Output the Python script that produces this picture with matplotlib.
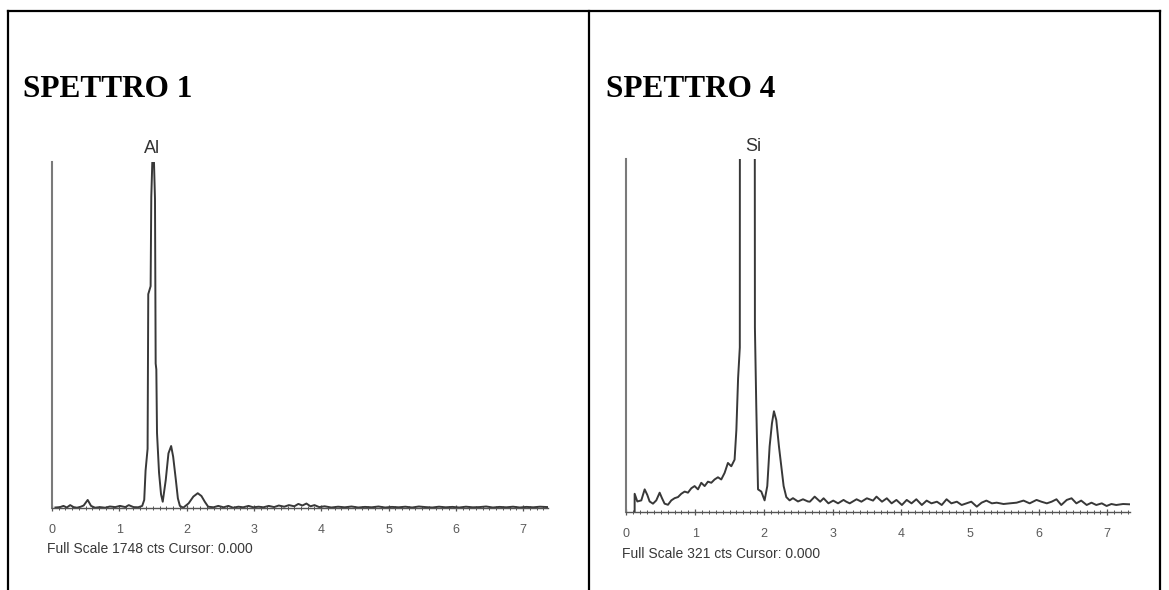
import matplotlib.pyplot as plt
from matplotlib.lines import Line2D
from matplotlib.ticker import MultipleLocator

# spectrum 1 (keV, counts), full scale 1748 cts
kev_1 = [0.05, 0.12, 0.17, 0.22, 0.27, 0.32, 0.37, 0.42, 0.47, 0.53, 0.58, 0.64,
         0.71, 0.79, 0.86, 0.94, 1.01, 1.09, 1.14, 1.21, 1.28, 1.34, 1.37, 1.39,
         1.42, 1.43, 1.465, 1.475, 1.49, 1.515, 1.53, 1.54, 1.55, 1.56, 1.59,
         1.62, 1.645, 1.69, 1.73, 1.77, 1.80, 1.84, 1.87, 1.90, 1.95, 2.03, 2.10,
         2.165, 2.22, 2.27, 2.32, 2.40, 2.47, 2.55, 2.62, 2.69, 2.77, 2.84, 2.92,
         2.99, 3.07, 3.14, 3.22, 3.30, 3.37, 3.45, 3.52, 3.60, 3.66, 3.72, 3.78,
         3.84, 3.90, 3.97, 4.05, 4.15, 4.25, 4.35, 4.45, 4.55, 4.65, 4.75, 4.85,
         4.95, 5.05, 5.15, 5.25, 5.35, 5.45, 5.55, 5.65, 5.75, 5.85, 5.95, 6.05,
         6.15, 6.25, 6.35, 6.45, 6.55, 6.65, 6.75, 6.85, 6.95, 7.05, 7.15, 7.25,
         7.37]
cts_1 = [4, 6, 12, 4, 16, 6, 3, 7, 14, 42, 12, 3,
         6, 3, 9, 6, 12, 6, 16, 6, 5, 12, 42, 190,
         300, 1080, 1120, 1570, 1745, 1745, 1560, 730, 700, 380, 180,
         70, 33, 143, 277, 314, 260, 143, 50, 12, 3, 25, 59,
         76, 62, 33, 8, 5, 12, 5, 12, 3, 8, 5, 12,
         5, 8, 5, 12, 6, 14, 8, 16, 10, 22, 14, 24,
         10, 16, 6, 10, 4, 8, 5, 9, 4, 7, 5, 9,
         4, 7, 5, 8, 4, 9, 6, 4, 8, 5, 7, 4,
         8, 5, 6, 9, 4, 7, 5, 8, 4, 7, 5, 8,
         6]

# spectrum 4 (keV, counts), full scale 321 cts; Si peak runs off scale
kev_4 = [0.119, 0.119, 0.158, 0.216, 0.265, 0.303, 0.337, 0.386, 0.434, 0.483,
         0.517, 0.555, 0.604, 0.653, 0.701, 0.750, 0.798, 0.847, 0.895, 0.944,
         0.992, 1.041, 1.089, 1.138, 1.186, 1.235, 1.283, 1.332, 1.38, 1.429,
         1.477, 1.526, 1.574, 1.60, 1.625, 1.65, 1.655, 1.74, 1.862, 1.87, 1.89,
         1.915, 1.963, 2.011, 2.05, 2.084, 2.118, 2.147, 2.181, 2.22, 2.254,
         2.288, 2.327, 2.375, 2.424, 2.497, 2.57, 2.642, 2.67, 2.74, 2.82, 2.87,
         2.94, 3.01, 3.08, 3.16, 3.20, 3.25, 3.35, 3.42, 3.50, 3.59, 3.64, 3.72,
         3.79, 3.86, 3.93, 4.01, 4.08, 4.15, 4.22, 4.30, 4.37, 4.44, 4.52, 4.59,
         4.66, 4.73, 4.81, 4.88, 4.95, 5.02, 5.10, 5.17, 5.24, 5.32, 5.39, 5.49,
         5.58, 5.68, 5.78, 5.87, 5.97, 6.04, 6.12, 6.19, 6.26, 6.33, 6.41, 6.48,
         6.55, 6.62, 6.70, 6.77, 6.84, 6.92, 6.99, 7.06, 7.13, 7.23, 7.33]
cts_4 = [0, 17, 10, 11, 21, 16, 10, 8, 11, 18,
         13, 8, 7, 11, 13, 14, 17, 19, 18, 22,
         24, 21, 27, 24, 28, 27, 30, 32, 30, 36,
         45, 42, 48, 75, 122, 150, 1000, 1600, 900, 168, 96,
         21, 19, 11, 24, 60, 81, 92, 84, 60, 42,
         24, 14, 11, 13, 10, 12, 10, 9.8, 14.4, 9.8, 12.9,
         8.3, 10.8, 8.3, 11.4, 9.8, 8.3, 12.0, 9.8, 12.9, 10.8, 14.4, 9.8,
         12.9, 8.3, 11.4, 6.8, 11.4, 8.3, 12.0, 6.8, 10.8, 8.3, 9.8, 6.8,
         12.0, 8.3, 9.8, 6.8, 8.3, 9.8, 5.3, 8.9, 10.8, 8.3, 8.9, 7.7,
         8.3, 8.9, 10.8, 8.3, 11.4, 9.8, 8.3, 9.8, 12.0, 6.8, 11.4, 12.9,
         8.3, 10.8, 6.8, 8.9, 6.8, 8.3, 5.9, 7.7, 6.8, 7.7, 7.4]

panels = [
    dict(title="SPETTRO 1", kev=kev_1, cts=cts_1, full=1748, xmax=7.37,
         element="Al", el_kev=1.49, el_y=1.039,
         rect=[0.0445, 0.1385, 0.4243, 0.5875],
         title_xy=(0.0194, 0.835), foot_xy=(0.040, 0.069)),
    dict(title="SPETTRO 4", kev=kev_4, cts=cts_4, full=321, xmax=7.33,
         element="Si", el_kev=1.85, el_y=1.036,
         rect=[0.5359, 0.1314, 0.4307, 0.5986],
         title_xy=(0.518, 0.835), foot_xy=(0.5318, 0.061)),
]

ink = "#383838"
grey = "#5a5a5a"

fig = plt.figure(figsize=(11.69, 5.90), dpi=100)

# table frame around the two spectra
frame = dict(color="black", lw=1.6, transform=fig.transFigure)
fig.add_artist(Line2D([8 / 1169, 1160 / 1169], [1 - 11 / 590] * 2, **frame))
for px in (8, 588.5, 1160):
    fig.add_artist(Line2D([px / 1169] * 2, [0, 1 - 11 / 590], **frame))

for p in panels:
    ax = fig.add_axes(p["rect"])
    ax.plot(p["kev"], p["cts"], color=ink, lw=1.4)
    ax.set_xlim(0, p["xmax"])
    ax.set_ylim(0, p["full"])

    for s in ("top", "right"):
        ax.spines[s].set_visible(False)
    ax.spines["left"].set_color("#7a7a7a")
    ax.spines["left"].set_linewidth(1.5)
    ax.spines["bottom"].set_color("#555555")
    ax.spines["bottom"].set_linewidth(1.0)

    ax.set_yticks([])
    ax.xaxis.set_major_locator(MultipleLocator(1))
    ax.xaxis.set_minor_locator(MultipleLocator(0.1))
    ax.tick_params(axis="x", which="major", direction="inout", length=4.5,
                   width=0.9, color="#555555", pad=9, labelsize=9,
                   labelcolor=grey)
    ax.tick_params(axis="x", which="minor", direction="inout", length=2.5,
                   width=0.7, color="#555555")
    for lab in ax.get_xticklabels():
        lab.set_family("Liberation Sans")

    ax.annotate(p["element"], xy=(p["el_kev"], p["el_y"]),
                xycoords=("data", "axes fraction"), ha="center", va="center",
                fontsize=13, color="#333333", family="Liberation Sans",
                annotation_clip=False)

    fig.text(*p["title_xy"], p["title"], family="Liberation Serif",
             weight="bold", fontsize=22.5, va="baseline", ha="left")
    fig.text(*p["foot_xy"], "Full Scale %d cts Cursor: 0.000" % p["full"],
             family="Liberation Sans", fontsize=10, color=ink,
             va="center", ha="left")

fig.savefig("out.png", dpi=100, facecolor="white")
